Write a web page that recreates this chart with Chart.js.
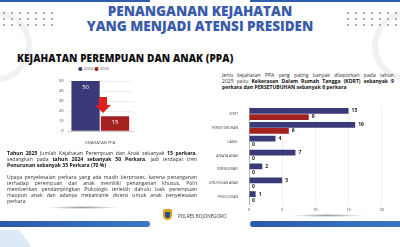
<!DOCTYPE html>
<html>
<head>
<meta charset="utf-8">
<script src="https://cdn.jsdelivr.net/npm/chart.js@4.4.0/dist/chart.umd.min.js"></script>
<style>
  body { margin: 0; background: #fff; font-family: "Open Sans", sans-serif; }
  #halaman { position: relative; width: 400px; height: 247px; overflow: hidden; background: #fff; }
  .abs { position: absolute; }
  .garis-biru { position: absolute; background: #2f5fae; }
  .titik { position: absolute; width: 2px; height: 2px; border-radius: 50%; background: #8c95aa; }
  .judul { position: absolute; left: 0; width: 400px; text-align: center; color: #3a5ba9; font-weight: 800; font-size: 13.5px; line-height: 15px; }
  .teks { position: absolute; font-size: 5.1px; line-height: 6px; color: #333; }
  .teks div { text-align: justify; text-align-last: justify; white-space: nowrap; }
  .teks div.akhir { text-align-last: left; }
  .teks b { color: #111; }
</style>
</head>
<body>
<div id="halaman">
  <div class="garis-biru" style="left:0;top:0;width:150px;height:2px"></div>
  <div class="garis-biru" style="left:250px;top:0;width:150px;height:2px"></div>
  <div class="abs" style="left:-40px;top:10px;width:60px;height:60px;border-radius:50%;border:6px solid #f1f1f3"></div>
  <div class="abs" style="left:372px;top:10px;width:60px;height:60px;border-radius:50%;border:6px solid #f1f1f3"></div>
  <div id="titik"></div>

  <div class="judul" style="top:4px">PENANGANAN KEJAHATAN</div>
  <div class="judul" style="top:19px">YANG MENJADI ATENSI PRESIDEN</div>

  <div class="abs" style="left:17px;top:51px;font-size:10px;font-weight:800;color:#111;letter-spacing:0.1px">KEJAHATAN PEREMPUAN DAN ANAK (PPA)</div>

  <div class="abs" style="left:55px;top:65px;width:80px;height:81px"><canvas id="grafikKiri"></canvas></div>
  <!-- panah merah -->
  <div class="abs" style="left:99px;top:97px;width:8px;height:8px;background:#e0201b"></div>
  <div class="abs" style="left:95px;top:105px;width:0;height:0;border-left:8px solid transparent;border-right:8px solid transparent;border-top:8px solid #e0201b"></div>

  <div class="teks" style="left:7px;top:150px;width:190px">
    <div><b>Tahun 2025</b> Jumlah Kejahatan Perempuan dan Anak sebanyak <b>15 perkara</b>,</div>
    <div>sedangkan pada <b>tahun 2024 sebanyak 50 Perkara</b>, jadi terdapat tren</div>
    <div class="akhir"><b>Penurunan sebanyak 35 Perkara (70 %)</b></div>
  </div>
  <div class="teks" style="left:7px;top:174px;width:190px">
    <div>Upaya penyelesaian perkara yang ada masih berproses, karena penanganan</div>
    <div>terhadap perempuan dan anak memiliki penanganan khusus. Polri</div>
    <div>memberikan pendampingkan Psikologis terlebih dahulu baik perempuan</div>
    <div>maupun anak dan adanya mekanisme diversi untuk anak penyelesaian</div>
    <div class="akhir">perkara</div>
  </div>

  <div class="teks" style="left:222px;top:72px;width:172px">
    <div>Jenis kejahatan PPA yang paling banyak dilaporkan pada tahun</div>
    <div>2025 yaitu <b>Kekerasan Dalam Rumah Tangga (KDRT) sebanyak 9</b></div>
    <div class="akhir"><b>perkara dan PERSETUBUHAN sebanyak 6 perkara</b></div>
  </div>

  <div class="abs" style="left:209px;top:102px;width:176px;height:111px"><canvas id="grafikKanan"></canvas></div>

  <div class="abs" style="left:45px;top:206px;width:75px;height:3px;border-radius:50%;background:radial-gradient(ellipse at center,#9a9a9a 0%,rgba(255,255,255,0) 70%)"></div>
  <div class="abs" style="left:290px;top:214px;width:75px;height:3px;border-radius:50%;background:radial-gradient(ellipse at center,#9a9a9a 0%,rgba(255,255,255,0) 70%)"></div>
  <div class="garis-biru" style="left:0;top:221px;width:150px;height:6px;border-radius:0 4px 4px 0;background:linear-gradient(90deg,#2b5aa8,#3e76c4)"></div>
  <div class="garis-biru" style="left:250px;top:221px;width:150px;height:6px;border-radius:4px 0 0 4px;background:linear-gradient(90deg,#2b5aa8,#3e76c4)"></div>
  <div class="abs" style="left:-10px;top:230px;width:40px;height:30px;background:#dde9f6;transform:skewX(35deg)"></div>

  <div class="abs" style="left:163px;top:209px;width:9px;height:11px;background:#d9a21c;border-radius:2px 2px 5px 5px"></div>
  <div class="abs" style="left:165px;top:212px;width:5px;height:6px;background:#2a4c8f;border-radius:1px 1px 3px 3px"></div>
  <div class="abs" style="left:178px;top:213px;font-size:4.6px;color:#333">POLRES BOJONEGORO</div>
</div>

<script>
// titik dekorasi
var wadah = document.getElementById('titik');
var kolomX = [3, 11, 19, 27, 35, 43, 51];
var barisY = [12, 18, 24];
for (var i = 0; i < barisY.length; i++) {
    for (var j = 0; j < kolomX.length; j++) {
        [kolomX[j], kolomX[j] + 344].forEach(function (x) {
            var d = document.createElement('div');
            d.className = 'titik';
            d.style.left = x + 'px';
            d.style.top = barisY[i] + 'px';
            wadah.appendChild(d);
        });
    }
}

const warna2024 = '#3b3a78';
const warna2025 = '#a3221f';

// data grafik kiri
const labelKiri = ['KEJAHATAN PPA'];
const nilaiKiri2024 = [50];
const nilaiKiri2025 = [15];
const tickKiri = [0, 10, 20, 30, 40, 50];

// data grafik kanan
const jenisKejahatan = ['KDRT', 'PERSETUBUHAN', 'CABUL', 'ANIAYA ANAK', 'PORNOGRAFI', 'PENGEROYOKAN ANAK', 'PENCULIKAN'];
const nilaiKanan2024 = [15, 16, 4, 7, 2, 5, 1];
const nilaiKanan2025 = [9, 6, 0, 0, 0, 0, 0];
const tickKanan = [0, 5, 10, 15, 20];

function pluginLabel(posisi, warnaTeks, ukuran) {
    return {
        id: 'labelNilai',
        afterDatasetsDraw(chart) {
            const ctx = chart.ctx;
            ctx.save();
            ctx.font = 'bold ' + ukuran + 'px "Open Sans"';
            ctx.fillStyle = warnaTeks;
            chart.data.datasets.forEach(function (ds, i) {
                chart.getDatasetMeta(i).data.forEach(function (bar, k) {
                    const v = ds.data[k];
                    if (posisi === 'dalam') {
                        ctx.textAlign = 'center';
                        ctx.textBaseline = 'top';
                        ctx.font = ukuran + 'px "Open Sans"';
                        ctx.fillText(v, bar.x, bar.y + 3);
                    } else {
                        ctx.textAlign = 'left';
                        ctx.textBaseline = 'middle';
                        ctx.fillText(v, bar.x + 3, bar.y);
                    }
                });
            });
            ctx.restore();
        }
    };
}

const fontKecil = { size: 4, family: 'Open Sans' };

new Chart(document.getElementById('grafikKiri'), {
    type: 'bar',
    data: {
        labels: labelKiri,
        datasets: [
            { label: '2024', data: nilaiKiri2024, backgroundColor: warna2024, barPercentage: 0.96, categoryPercentage: 0.9 },
            { label: '2025', data: nilaiKiri2025, backgroundColor: warna2025, barPercentage: 0.96, categoryPercentage: 0.9 }
        ]
    },
    options: {
        responsive: true,
        maintainAspectRatio: false,
        animation: false,
        layout: { padding: { top: 0, right: 2 } },
        plugins: {
            legend: {
                display: true,
                labels: { usePointStyle: true, pointStyle: 'circle', boxWidth: 3, boxHeight: 3, padding: 2, font: fontKecil, color: '#555' }
            },
            tooltip: { enabled: false }
        },
        scales: {
            y: {
                min: 0, max: 50,
                afterBuildTicks: function (ax) { ax.ticks = tickKiri.map(function (v) { return { value: v }; }); },
                grid: { color: '#eeeeee', drawTicks: false },
                border: { display: false },
                ticks: { font: fontKecil, color: '#444', padding: 4 }
            },
            x: {
                grid: { display: false },
                border: { color: '#cccccc' },
                ticks: { font: fontKecil, color: '#444', padding: 1 }
            }
        }
    },
    plugins: [pluginLabel('dalam', '#ffffff', 6)]
});

new Chart(document.getElementById('grafikKanan'), {
    type: 'bar',
    data: {
        labels: jenisKejahatan,
        datasets: [
            { label: '2024', data: nilaiKanan2024, backgroundColor: warna2024, barPercentage: 0.95, categoryPercentage: 0.88 },
            { label: '2025', data: nilaiKanan2025, backgroundColor: warna2025, barPercentage: 0.95, categoryPercentage: 0.88 }
        ]
    },
    options: {
        indexAxis: 'y',
        responsive: true,
        maintainAspectRatio: false,
        animation: false,
        layout: { padding: { right: 0 } },
        plugins: {
            legend: { display: false },
            tooltip: { enabled: false }
        },
        scales: {
            x: {
                min: 0, max: 20,
                afterBuildTicks: function (ax) { ax.ticks = tickKanan.map(function (v) { return { value: v }; }); },
                grid: { color: '#eeeeee', drawTicks: true, tickLength: 2 },
                border: { display: false },
                ticks: { font: fontKecil, color: '#444', padding: 1 }
            },
            y: {
                afterFit: function (ax) { ax.width = 40; },
                grid: { display: false },
                border: { color: '#bbbbbb' },
                ticks: { font: { size: 3.4, family: 'Open Sans' }, color: '#444', padding: 3 }
            }
        }
    },
    plugins: [pluginLabel('luar', '#222222', 5)]
});
</script>
</body>
</html>
